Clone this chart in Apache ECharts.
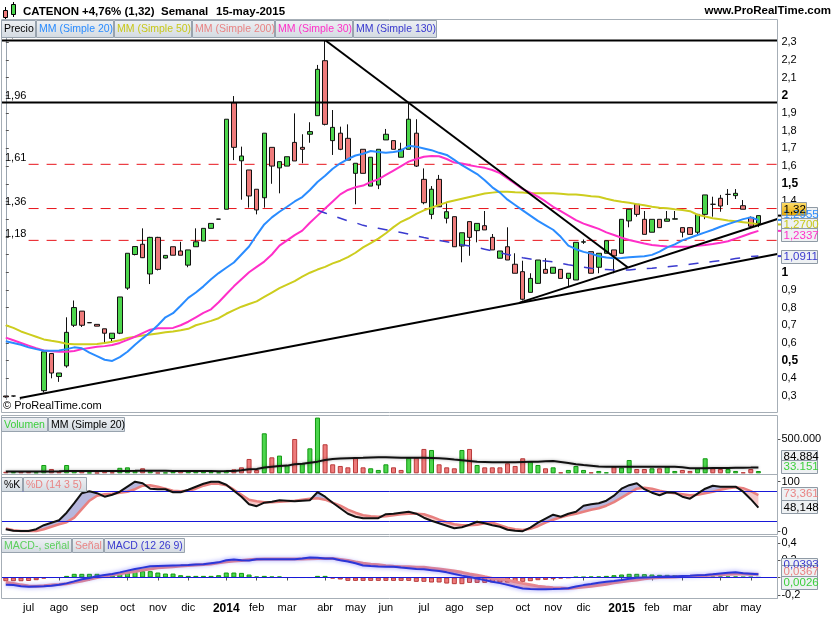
<!DOCTYPE html>
<html><head><meta charset="utf-8">
<script src="https://cdn.jsdelivr.net/npm/echarts@6/dist/echarts.min.js"></script>
<style>html,body{margin:0;padding:0;background:#fff}#c{width:835px;height:620px}</style>
</head><body><div id="c"></div>
<script>
// ---------------- DATA ----------------
const openP  = [0.30,0.30,0.275,0.27,0.265,0.33,0.54,0.41,0.47,0.70,0.78,0.715,0.705,0.68,0.625,0.655,0.91,1.10,1.158,0.99,1.197,1.08,1.144,1.12,1.04,1.144,1.176,1.248,1.30,1.356,1.958,1.63,1.578,1.469,1.421,1.706,1.59,1.60,1.734,1.706,1.78,1.885,2.196,1.744,1.786,1.757,1.559,1.695,1.487,1.493,1.748,1.744,1.65,1.695,1.786,1.525,1.327,1.525,1.305,1.314,1.148,1.286,1.235,1.263,1.197,1.079,1.144,1.045,1.003,0.886,0.937,1.016,0.994,1.016,0.965,0.956,1.17,1.116,1.028,1.107,1.126,1.107,1.29,1.384,1.299,1.226,1.299,1.288,1.30,1.252,1.252,1.226,1.327,1.384,1.418,1.44,1.433,1.376,1.31,1.276];
const highP  = [0.30,0.30,0.28,0.275,0.275,0.55,0.54,0.43,0.745,0.84,0.78,0.715,0.705,0.68,0.655,0.86,1.107,1.145,1.248,1.20,1.20,1.095,1.144,1.172,1.126,1.248,1.248,1.276,1.30,1.865,1.996,1.71,1.578,1.469,1.786,1.706,1.625,1.653,1.898,1.78,1.848,2.172,2.31,1.917,1.823,1.836,1.616,1.695,1.65,1.695,1.81,1.744,1.732,1.955,1.865,1.587,1.487,1.55,1.39,1.314,1.223,1.286,1.276,1.346,1.216,1.12,1.254,1.107,1.065,0.994,1.069,1.079,1.028,1.016,0.994,1.169,1.185,1.116,1.107,1.178,1.126,1.299,1.356,1.384,1.346,1.299,1.299,1.346,1.346,1.252,1.252,1.327,1.437,1.427,1.437,1.47,1.47,1.408,1.315,1.32];
const lowP   = [0.29,0.295,0.26,0.26,0.26,0.32,0.40,0.38,0.46,0.69,0.69,0.714,0.695,0.60,0.60,0.65,0.90,1.095,1.08,0.933,1.01,1.078,1.096,1.096,1.028,1.144,1.176,1.248,1.30,1.356,1.634,1.41,1.365,1.327,1.365,1.50,1.446,1.60,1.629,1.616,1.732,1.885,1.83,1.663,1.69,1.634,1.384,1.559,1.487,1.47,1.748,1.695,1.65,1.695,1.595,1.384,1.30,1.37,1.276,1.144,1.056,1.093,1.169,1.239,1.126,1.079,1.069,0.994,0.84,0.886,0.935,0.994,0.994,0.965,0.922,0.956,1.16,0.994,0.994,1.107,0.994,1.107,1.254,1.314,1.214,1.226,1.252,1.288,1.30,1.197,1.214,1.21,1.30,1.314,1.342,1.38,1.414,1.356,1.255,1.255];
const closeP = [0.295,0.30,0.265,0.265,0.27,0.55,0.43,0.43,0.66,0.80,0.70,0.714,0.695,0.655,0.655,0.86,1.107,1.145,1.082,1.197,1.016,1.095,1.096,1.096,1.126,1.172,1.248,1.276,1.30,1.865,1.706,1.657,1.431,1.352,1.786,1.60,1.625,1.653,1.629,1.695,1.795,2.147,1.836,1.819,1.695,1.634,1.616,1.559,1.65,1.695,1.78,1.695,1.695,1.865,1.60,1.393,1.469,1.37,1.342,1.144,1.223,1.197,1.276,1.239,1.126,1.12,1.069,0.994,0.847,0.965,1.069,0.994,1.028,0.965,0.994,1.169,1.172,0.994,1.107,1.178,1.092,1.299,1.356,1.327,1.214,1.299,1.252,1.301,1.302,1.226,1.214,1.327,1.437,1.384,1.374,1.44,1.446,1.356,1.26,1.32];

const ma20 = [0.61,0.60,0.59,0.575,0.565,0.556,0.556,0.557,0.565,0.575,0.57,0.545,0.525,0.505,0.498,0.52,0.55,0.59,0.626,0.66,0.70,0.745,0.768,0.81,0.855,0.885,0.92,0.96,0.995,1.025,1.055,1.10,1.145,1.21,1.27,1.31,1.342,1.37,1.40,1.425,1.465,1.51,1.545,1.585,1.616,1.64,1.66,1.67,1.685,1.68,1.676,1.68,1.687,1.715,1.71,1.70,1.69,1.675,1.663,1.635,1.605,1.58,1.555,1.52,1.48,1.45,1.41,1.38,1.35,1.32,1.29,1.265,1.24,1.20,1.15,1.13,1.115,1.105,1.09,1.083,1.079,1.08,1.084,1.088,1.09,1.098,1.116,1.14,1.157,1.18,1.195,1.21,1.225,1.24,1.257,1.272,1.286,1.30,1.31,1.2955];
const ma30 = [0.63,0.615,0.60,0.585,0.57,0.558,0.553,0.55,0.55,0.555,0.565,0.572,0.578,0.582,0.588,0.60,0.617,0.635,0.655,0.675,0.683,0.683,0.685,0.70,0.72,0.745,0.77,0.79,0.83,0.875,0.92,0.96,1.00,1.03,1.06,1.10,1.15,1.18,1.21,1.235,1.28,1.32,1.36,1.40,1.44,1.465,1.48,1.49,1.51,1.525,1.55,1.575,1.60,1.625,1.64,1.653,1.657,1.656,1.64,1.62,1.615,1.605,1.597,1.59,1.578,1.56,1.53,1.50,1.47,1.45,1.427,1.40,1.37,1.345,1.32,1.295,1.275,1.26,1.245,1.225,1.21,1.195,1.182,1.172,1.162,1.154,1.149,1.145,1.144,1.144,1.146,1.149,1.154,1.16,1.167,1.175,1.19,1.205,1.22,1.2337];
const ma50 = [0.70,0.685,0.665,0.65,0.635,0.62,0.612,0.605,0.595,0.592,0.592,0.593,0.594,0.60,0.607,0.615,0.628,0.635,0.642,0.648,0.654,0.66,0.665,0.672,0.68,0.70,0.712,0.725,0.74,0.765,0.786,0.805,0.82,0.835,0.86,0.885,0.91,0.93,0.95,0.975,0.997,1.015,1.03,1.05,1.065,1.085,1.11,1.14,1.165,1.19,1.22,1.255,1.285,1.305,1.33,1.35,1.365,1.38,1.395,1.405,1.415,1.425,1.435,1.445,1.45,1.455,1.455,1.452,1.45,1.446,1.446,1.446,1.446,1.444,1.44,1.44,1.435,1.43,1.427,1.415,1.405,1.398,1.393,1.385,1.378,1.37,1.365,1.361,1.356,1.352,1.345,1.325,1.315,1.305,1.299,1.293,1.288,1.283,1.278,1.27];
const ma130 = ['-','-','-','-','-','-','-','-','-','-','-','-','-','-','-','-','-','-','-','-','-','-','-','-','-','-','-','-','-','-','-','-','-','-','-','-','-','-','-','-','-',1.35,1.335,1.32,1.305,1.29,1.28,1.265,1.255,1.248,1.24,1.232,1.225,1.215,1.205,1.196,1.188,1.18,1.172,1.163,1.155,1.148,1.14,1.13,1.12,1.11,1.10,1.09,1.082,1.075,1.068,1.063,1.058,1.05,1.042,1.035,1.028,1.022,1.017,1.015,1.013,1.012,1.013,1.017,1.02,1.022,1.026,1.03,1.035,1.04,1.045,1.05,1.055,1.06,1.065,1.07,1.077,1.083,1.088,1.0911];

const volume = [22000,18000,25000,20000,15000,121000,63000,24000,121000,34000,34000,12000,10000,24000,15000,80000,87000,34000,73000,30000,10000,12000,25000,35000,25000,25000,25000,20000,15000,40000,58000,87000,209000,49000,583000,233000,258000,121000,500000,146000,364000,812000,423000,131000,107000,87000,233000,87000,73000,49000,131000,87000,49000,228000,228000,355000,340000,131000,87000,73000,340000,355000,121000,87000,87000,87000,146000,107000,219000,170000,121000,73000,87000,15000,49000,107000,49000,15000,34000,15000,97000,83000,194000,63000,63000,73000,73000,97000,34000,49000,34000,73000,219000,73000,63000,63000,34000,15000,63000,33151];
const volMA20 = [27000,27000,26000,26000,25000,27000,28000,29000,32000,33000,34000,34000,33000,33000,32000,33000,35000,36000,38000,38000,37000,36000,35000,35000,34000,33000,32000,32000,31000,32000,34000,45000,58000,63000,83000,95000,105000,112000,131000,140000,155000,170000,195000,210000,215000,219000,222000,225000,230000,233000,233000,231000,228000,228000,228000,225000,222000,219000,212000,200000,190000,180000,170000,165000,160000,162000,160000,162000,165000,168000,170000,175000,178000,165000,150000,131000,120000,110000,100000,95000,97000,97000,97000,97000,97000,97000,97000,97000,95000,88000,75000,73000,75000,76000,77000,78000,80000,82000,83000,84884];

const stochK = [5,2,1.3,1.3,5,13,18,23,38,57,77,81,77,70,74,80,90,100,97,86,85,85,79,79,84,90,96,100,100,94,82,70,55,51,58,60,63,62,61,62,63,79,70,58,47,36,30,27,27,27,35,36,38,40,36,28,22,17,12,7,9,14,20,17,13,10,4,2,1,8,18,26,34,30,36,40,52,55,57,62,72,86,93,97,85,78,73,79,78,70,66,76,86,92,90,90,90,80,65,48.148];
const stochD = [6.7,3,1.3,1.3,1.5,5,10,15,19,28,45,62,72,75,76,78,80,85,92,93,90,86,82,81,82,86,92,96,96,93,84,74,64,61,59,59,60,61,62,64,66,67,64,58,52,44,38,33,31,30,31,33,35,36,36,35,30,24,19,15,13,13,14,17,18,13,8,5,3.5,6,11,18,24,29,33,36,40,44,47,52,59,68,77,86,88,86,82,79,77,75,73,74,77,80,84,87,89,87,81,73.361];

const macdLine = [-0.083,-0.087,-0.10,-0.108,-0.104,-0.10,-0.095,-0.085,-0.068,-0.045,-0.02,-0.005,0.015,0.03,0.041,0.06,0.08,0.098,0.115,0.13,0.135,0.137,0.139,0.141,0.145,0.15,0.153,0.165,0.176,0.20,0.21,0.20,0.197,0.212,0.213,0.211,0.211,0.211,0.211,0.22,0.232,0.228,0.222,0.22,0.20,0.185,0.165,0.14,0.133,0.128,0.126,0.126,0.115,0.108,0.10,0.095,0.085,0.075,0.06,0.04,0.022,0.005,-0.012,-0.03,-0.048,-0.065,-0.085,-0.108,-0.127,-0.132,-0.136,-0.137,-0.134,-0.13,-0.125,-0.105,-0.088,-0.075,-0.06,-0.05,-0.04,-0.029,-0.015,-0.002,0.001,0.004,0.008,0.011,0.013,0.018,0.021,0.026,0.029,0.037,0.048,0.056,0.06,0.05,0.045,0.0393];
const signalLine = [-0.055,-0.068,-0.085,-0.097,-0.102,-0.095,-0.087,-0.08,-0.072,-0.055,-0.04,-0.02,0.0,0.018,0.032,0.044,0.058,0.07,0.088,0.10,0.112,0.12,0.126,0.133,0.139,0.145,0.15,0.158,0.17,0.184,0.192,0.198,0.205,0.211,0.214,0.215,0.215,0.215,0.215,0.215,0.218,0.222,0.222,0.222,0.21,0.198,0.18,0.165,0.155,0.147,0.138,0.13,0.126,0.125,0.118,0.118,0.108,0.098,0.088,0.075,0.06,0.042,0.027,0.008,-0.01,-0.018,-0.028,-0.05,-0.068,-0.083,-0.10,-0.11,-0.118,-0.122,-0.126,-0.12,-0.111,-0.10,-0.09,-0.078,-0.062,-0.048,-0.037,-0.028,-0.014,-0.006,0.001,0.004,0.006,0.011,0.014,0.019,0.023,0.029,0.033,0.037,0.04,0.041,0.039,0.0367];
const macdHist = [-0.043,-0.043,-0.043,-0.04,-0.031,-0.012,0,0,0.019,0.043,0.043,0.043,0.043,0.027,0.027,0.046,0.058,0.066,0.074,0.074,0.058,0.046,0.046,0.027,0.019,0.019,0.019,0.019,0.027,0.058,0.058,0.054,0.035,0.012,0.019,0.012,0.012,0,0,0,0,0.019,0.019,-0.012,-0.023,-0.039,-0.039,-0.039,-0.039,-0.039,-0.039,-0.039,-0.039,-0.039,-0.05,-0.05,-0.058,-0.058,-0.07,-0.077,-0.077,-0.062,-0.062,-0.062,-0.058,-0.058,-0.058,-0.058,-0.05,-0.043,-0.031,-0.027,-0.019,-0.012,-0.004,0.008,0.008,0.012,0.012,0.019,0.027,0.035,0.043,0.043,0.039,0.035,0.031,0.031,0.027,0.019,0.012,0.012,0.012,0.012,0.012,0.012,0.012,0.008,0.008,0.0026];

// horizontal levels and trend lines (in week-index / price units)
const blackLevels = [2.31, 1.96];
const redLevels = [1.61, 1.36, 1.18];
const levelLabels = ['2,31','1,96','1,61','1,36','1,18'];
const trendLines = [[1.84,0.289,101.5,1.1035],[42.07,2.31,81.8,1.028],[67.6,0.828,101.5,1.301]];

const monthTicks = [[3,'jul'],[7,'ago'],[11,'sep'],[16,'oct'],[20,'nov'],[24,'dic'],[29,'2014'],[33,'feb'],[37,'mar'],[42,'abr'],[46,'may'],[50,'jun'],[55,'jul'],[59,'ago'],[63,'sep'],[68,'oct'],[72,'nov'],[76,'dic'],[81,'2015'],[85,'feb'],[89,'mar'],[94,'abr'],[98,'may']];
const priceTicks = [0.3,0.4,0.5,0.6,0.7,0.8,0.9,1,1.1,1.2,1.3,1.4,1.5,1.6,1.7,1.8,1.9,2,2.1,2.2,2.3];

// ---------------- CHART ----------------
const F = '"Liberation Sans", Arial, sans-serif';
const chart = echarts.init(document.getElementById('c'), null, {width: 835, height: 620});
const NCAT = 102;
const cats = Array.from({length: NCAT}, (_, i) => String(i));
const tickMap = {}; monthTicks.forEach(t => tickMap[t[0]] = t[1]);

const GREEN = '#4cd64c', GREEN_B = '#119911', RED = '#ee7b7b', RED_B = '#b83a3a';
const candles = openP.map((o, i) => [o, closeP[i], lowP[i], highP[i]]);
const volData = volume.map((v, i) => ({value: v, itemStyle: (i > 0 && closeP[i] > closeP[i-1]) || (i === 0 && closeP[0] >= openP[0]) ? {color: GREEN, borderColor: GREEN_B} : {color: RED, borderColor: RED_B}}));
const histData = macdHist.map(v => ({value: v, itemStyle: v >= 0 ? {color: GREEN, borderColor: GREEN_B} : {color: RED, borderColor: RED_B}}));

function fillSeries(a, b, stackName, xi, yi, upCol, dnCol) {
  const base = a.map((v, i) => Math.min(v, b[i]));
  const pos = a.map((v, i) => Math.max(v - b[i], 0));
  const neg = a.map((v, i) => Math.max(b[i] - v, 0));
  const common = {type: 'line', xAxisIndex: xi, yAxisIndex: yi, stack: stackName, stackStrategy: 'all', symbol: 'none', silent: true, z: 1};
  return [
    Object.assign({}, common, {data: base, lineStyle: {opacity: 0}}),
    Object.assign({}, common, {data: pos, lineStyle: {opacity: 0}, areaStyle: {color: upCol, opacity: 1}}),
    Object.assign({}, common, {data: neg, lineStyle: {opacity: 0}, areaStyle: {color: dnCol, opacity: 1}})
  ];
}

function fmtNum(v) { return String(Math.round(v * 10) / 10).replace('.', ','); }

const lineSeries = [];
blackLevels.forEach(v => lineSeries.push({type: 'line', xAxisIndex: 1, yAxisIndex: 0, data: [[-0.5, v], [101.5, v]], symbol: 'none', silent: true, z: 4, lineStyle: {color: '#000', width: 2}}));
redLevels.forEach(v => lineSeries.push({type: 'line', xAxisIndex: 1, yAxisIndex: 0, data: [[3, v], [101.5, v]], symbol: 'none', silent: true, z: 2, lineStyle: {color: '#e8141b', width: 1, type: [10, 8]}}));
trendLines.forEach(t => lineSeries.push({type: 'line', xAxisIndex: 1, yAxisIndex: 0, data: [[t[0], t[1]], [t[2], t[3]]], symbol: 'none', silent: true, z: 6, lineStyle: {color: '#000', width: 2}}));

const option = {
  animation: false,
  backgroundColor: '#fff',
  textStyle: {fontFamily: F},
  grid: [
    {left: 2, width: 775.4, top: 19.5, height: 393},
    {left: 2, width: 775.4, top: 416.7, height: 56.6},
    {left: 2, width: 775.4, top: 475, height: 59},
    {left: 2, width: 775.4, top: 537.7, height: 60.6}
  ],
  xAxis: [
    {type: 'category', gridIndex: 0, data: cats, show: false},
    {type: 'value', gridIndex: 0, min: -0.5, max: 101.5, show: false},
    {type: 'category', gridIndex: 1, data: cats, show: false},
    {type: 'category', gridIndex: 2, data: cats, show: false},
    {type: 'category', gridIndex: 3, data: cats,
     axisLine: {show: false},
     axisTick: {show: true, length: 3, alignWithLabel: true, interval: (i) => tickMap[i] !== undefined, lineStyle: {color: '#555'}},
     axisLabel: {interval: (i) => tickMap[i] !== undefined, margin: 4, fontSize: 11, color: '#000', fontFamily: F,
       formatter: (v) => { const s = tickMap[Number(v)] || ''; return /^20/.test(s) ? '{y|' + s + '}' : s; },
       rich: {y: {fontWeight: 'bold', fontSize: 12, fontFamily: F, color: '#000'}}}}
  ],
  yAxis: [
    {type: 'value', gridIndex: 0, position: 'right', min: 0.2067, max: 2.4289, splitLine: {show: false},
     axisLine: {show: true, lineStyle: {color: '#9aa4ae'}},
     axisTick: {show: true, length: 3, customValues: priceTicks, lineStyle: {color: '#555'}},
     axisLabel: {customValues: priceTicks, margin: 4, fontSize: 11, color: '#000', fontFamily: F,
       formatter: (v) => { const s = fmtNum(v); return [0.5, 1, 1.5, 2].some(m => Math.abs(m - v) < 1e-6) ? '{b|' + s + '}' : s; },
       rich: {b: {fontWeight: 'bold', fontSize: 12, fontFamily: F, color: '#000'}}}},
    {type: 'value', gridIndex: 1, position: 'right', min: 0, max: 825000, splitLine: {show: false},
     axisLine: {show: true, lineStyle: {color: '#9aa4ae'}},
     axisTick: {show: true, length: 3, customValues: [500000], lineStyle: {color: '#555'}},
     axisLabel: {customValues: [500000], margin: 4, fontSize: 11, color: '#000', formatter: () => '500.000'}},
    {type: 'value', gridIndex: 2, position: 'right', min: -4.6, max: 113.4, splitLine: {show: false},
     axisLine: {show: true, lineStyle: {color: '#9aa4ae'}},
     axisTick: {show: true, length: 3, customValues: [0, 100], lineStyle: {color: '#555'}},
     axisLabel: {customValues: [0, 100], margin: 4, fontSize: 11, color: '#000'}},
    {type: 'value', gridIndex: 3, position: 'right', min: -0.241, max: 0.462, splitLine: {show: false},
     axisLine: {show: true, lineStyle: {color: '#9aa4ae'}},
     axisTick: {show: true, length: 3, customValues: [-0.2, 0, 0.2, 0.4], lineStyle: {color: '#555'}},
     axisLabel: {customValues: [-0.2, 0.2, 0.4], margin: 4, fontSize: 11, color: '#000', formatter: fmtNum}}
  ],
  series: [
    {type: 'candlestick', xAxisIndex: 0, yAxisIndex: 0, data: candles, barWidth: 5, z: 3,
     itemStyle: {color: GREEN, color0: RED, borderColor: '#111', borderColor0: '#111', borderWidth: 1}},
    {type: 'line', xAxisIndex: 0, yAxisIndex: 0, data: ma50, symbol: 'none', z: 5, lineStyle: {color: '#cdcd1e', width: 2}},
    {type: 'line', xAxisIndex: 0, yAxisIndex: 0, data: ma30, symbol: 'none', z: 5, lineStyle: {color: '#ff2fc8', width: 2}},
    {type: 'line', xAxisIndex: 0, yAxisIndex: 0, data: ma20, symbol: 'none', z: 5, lineStyle: {color: '#2a8cff', width: 2}},
    {type: 'line', xAxisIndex: 0, yAxisIndex: 0, data: ma130, symbol: 'none', z: 5, lineStyle: {color: '#3a3acf', width: 1.5, type: [10, 11]}},
    ...lineSeries,
    {type: 'bar', xAxisIndex: 2, yAxisIndex: 1, data: volData, barWidth: 5, z: 2, itemStyle: {borderWidth: 1}},
    {type: 'line', xAxisIndex: 2, yAxisIndex: 1, data: volMA20, symbol: 'none', z: 4,
     lineStyle: {color: '#111', width: 2, shadowColor: 'rgba(0,0,0,0.35)', shadowBlur: 3}},
    ...fillSeries(stochK, stochD, 'st', 3, 2, '#b7b7dd', '#f6c8c8'),
    {type: 'line', xAxisIndex: 3, yAxisIndex: 2, data: stochD, symbol: 'none', z: 4, lineStyle: {color: '#e8807f', width: 2.5}},
    {type: 'line', xAxisIndex: 3, yAxisIndex: 2, data: stochK, symbol: 'none', z: 5, lineStyle: {color: '#111', width: 2},
     markLine: {silent: true, symbol: 'none', label: {show: false}, lineStyle: {color: '#1818d8', width: 1, type: 'solid'}, data: [{yAxis: 80}, {yAxis: 20}]}},
    {type: 'bar', xAxisIndex: 4, yAxisIndex: 3, data: histData, barWidth: 5, z: 2, itemStyle: {borderWidth: 1}},
    ...fillSeries(macdLine, signalLine, 'md', 4, 3, '#b9f2b9', '#f6b9b9'),
    {type: 'line', xAxisIndex: 4, yAxisIndex: 3, data: signalLine, symbol: 'none', z: 4, lineStyle: {color: '#ee8a8a', width: 3}},
    {type: 'line', xAxisIndex: 4, yAxisIndex: 3, data: macdLine, symbol: 'none', z: 5,
     lineStyle: {color: '#2b36d8', width: 2, shadowColor: 'rgba(90,90,255,0.8)', shadowBlur: 4},
     markLine: {silent: true, symbol: 'none', label: {show: false}, lineStyle: {color: '#1818d8', width: 1, type: 'solid'}, data: [{yAxis: 0}]}}
  ]
};
chart.setOption(option);

// ---------------- OVERLAYS ----------------
const g = [];
const BORDER = '#a6aeb6';
g.push({type: 'rect', shape: {x: 0, y: 0, width: 835, height: 19.5}, style: {fill: '#fff'}, z: 90, silent: true});
[[19.5, 412.5], [415.5, 474.5], [474.5, 534.5], [536.5, 598.5]].forEach(p => g.push({type: 'rect', shape: {x: 1.5, y: p[0], width: 776, height: p[1] - p[0]}, style: {fill: 'none', stroke: BORDER, lineWidth: 1}, z: 91, silent: true}));
// header icon
g.push({type: 'line', shape: {x1: 5.5, y1: 7, x2: 5.5, y2: 19}, style: {stroke: '#000'}, z: 95});
g.push({type: 'rect', shape: {x: 3.5, y: 10.5, width: 4, height: 7}, style: {fill: '#ee7b7b', stroke: '#000'}, z: 95});
g.push({type: 'line', shape: {x1: 13.5, y1: 2, x2: 13.5, y2: 17}, style: {stroke: '#000'}, z: 95});
g.push({type: 'rect', shape: {x: 11.5, y: 4.5, width: 4, height: 10}, style: {fill: '#4cd64c', stroke: '#000'}, z: 95});
[['CATENON', 23], ['+4,76% (1,32)', 82], ['Semanal', 161], ['15-may-2015', 216]].forEach(t => g.push({type: 'text', x: t[1], y: 12, style: {text: t[0], font: 'bold 11.5px ' + F, fill: '#000', verticalAlign: 'middle'}, z: 95}));
g.push({type: 'text', x: 831, y: 11, style: {text: 'www.ProRealTime.com', font: 'bold 11.5px ' + F, fill: '#000', align: 'right', verticalAlign: 'middle'}, z: 95});

function tab(x0, x1, y0, y1, txt, col) {
  g.push({type: 'rect', shape: {x: x0 + 0.5, y: y0 + 0.5, width: x1 - x0, height: y1 - y0},
    style: {fill: new echarts.graphic.LinearGradient(0, 0, 0, 1, [{offset: 0, color: '#eef1f4'}, {offset: 1, color: '#d3dae1'}]), stroke: '#98a3ae'}, z: 96});
  g.push({type: 'text', x: x0 + 3, y: (y0 + y1) / 2 + 1, style: {text: txt, font: '10.5px ' + F, fill: col, verticalAlign: 'middle'}, z: 97});
}
[[1, 35, 'Precio', '#000'], [36, 113, 'MM (Simple 20)', '#2a8cff'], [114, 191, 'MM (Simple 50)', '#c8c81a'], [192, 274, 'MM (Simple 200)', '#e98484'], [275, 352, 'MM (Simple 30)', '#ff2fc8'], [353, 436, 'MM (Simple 130)', '#3a3acf']].forEach(t => tab(t[0], t[1], 20, 37, t[2], t[3]));
[[1, 47, 'Volumen', '#3ccf3c'], [48, 124, 'MM (Simple 20)', '#000']].forEach(t => tab(t[0], t[1], 417, 431, t[2], t[3]));
[[1, 22, '%K', '#000'], [23, 86, '%D (14 3 5)', '#e98484']].forEach(t => tab(t[0], t[1], 477, 491, t[2], t[3]));
[[1, 71, 'MACD-, señal', '#5ccf5c'], [72, 103, 'Señal', '#e98484'], [104, 184, 'MACD (12 26 9)', '#3a3acf']].forEach(t => tab(t[0], t[1], 538, 552, t[2], t[3]));

const xStart = chart.convertToPixel({xAxisIndex: 1}, -0.5);
blackLevels.concat(redLevels).forEach((v, k) => {
  const y = chart.convertToPixel({yAxisIndex: 0}, v);
  g.push({type: 'text', x: xStart + 3, y: y - 1, style: {text: levelLabels[k], font: '11px ' + F, fill: '#000', verticalAlign: 'bottom'}, z: 92});
});
g.push({type: 'text', x: 3, y: 406, style: {text: '© ProRealTime.com', font: '11px ' + F, fill: '#000', verticalAlign: 'middle', backgroundColor: '#fff', padding: [1, 2, 0, 0]}, z: 92});

function vbox(yc, txt, col, w, gold) {
  g.push({type: 'rect', shape: {x: 781.5, y: Math.round(yc - 6.5) + 0.5, width: w, height: 13},
    style: {fill: gold ? new echarts.graphic.LinearGradient(0, 0, 0, 1, [{offset: 0, color: '#ffe070'}, {offset: 1, color: '#e6a600'}]) : '#eef1f3', stroke: '#8f9aa5'}, z: 98});
  g.push({type: 'text', x: 783.5, y: Math.round(yc) + 1, style: {text: txt, font: '11.5px ' + F, fill: col, verticalAlign: 'middle'}, z: 99});
}
function tickMark(yc, col) { g.push({type: 'line', shape: {x1: 778, y1: yc, x2: 782, y2: yc}, style: {stroke: col, lineWidth: 2}, z: 97}); }
const py = (v) => chart.convertToPixel({yAxisIndex: 0}, v);
const lastI = closeP.length - 1;
tickMark(py(ma20[lastI]), '#2a8cff'); tickMark(py(ma50[lastI]), '#c8c81a'); tickMark(py(ma30[lastI]), '#ff2fc8'); tickMark(py(ma130[lastI]), '#3a3acf'); tickMark(py(closeP[lastI]), '#000');
vbox(py(ma20[lastI]) - 6, '1,2955', '#2a8cff', 36);
vbox(py(ma50[lastI]), '1,2700', '#c8c81a', 36);
vbox(py(ma30[lastI]) + 4, '1,2337', '#ff2fc8', 36);
vbox(py(closeP[lastI]) - 7, '1,32', '#000', 25, true);
vbox(py(ma130[lastI]), '1,0911', '#3a3acf', 36);
const pv = (v) => chart.convertToPixel({yAxisIndex: 1}, v);
vbox(pv(volMA20[lastI]) - 11, '84.884', '#000', 36);
vbox(pv(volume[lastI]) - 5, '33.151', '#3ccf3c', 36);
const ps = (v) => chart.convertToPixel({yAxisIndex: 2}, v);
vbox(ps(stochD[lastI]) - 2, '73,361', '#e98484', 36);
vbox(ps(stochK[lastI]) - 1, '48,148', '#000', 36);
const pm = (v) => chart.convertToPixel({yAxisIndex: 3}, v);
vbox(pm(macdLine[lastI]) - 10, '0,0393', '#3a3acf', 36);
vbox(pm(signalLine[lastI]) - 3, '0,0367', '#e98484', 36);
vbox(pm(macdHist[lastI]) + 5, '0,0026', '#3ccf3c', 36);

chart.setOption({graphic: {elements: g}});
</script></body></html>
